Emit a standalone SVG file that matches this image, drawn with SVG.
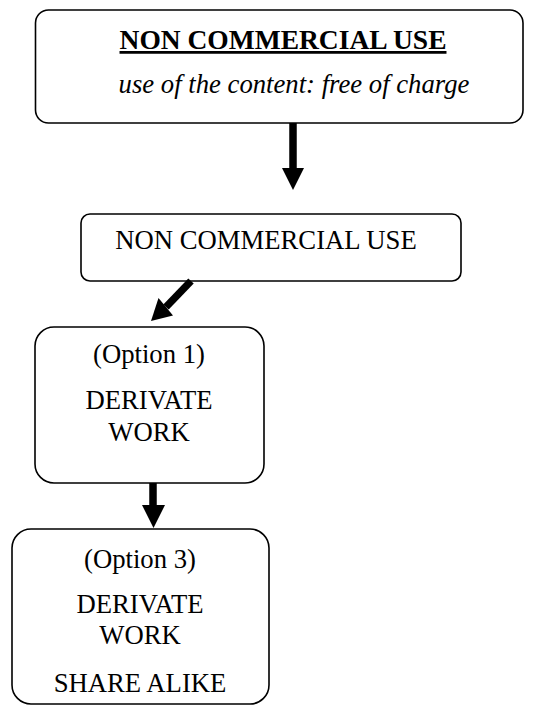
<svg xmlns="http://www.w3.org/2000/svg" width="534" height="706" viewBox="0 0 534 706">
<style>
.box{fill:#fff;stroke:#000;stroke-width:1.6}
.b{font-weight:bold;text-decoration:underline}
.i{font-style:italic}
.c{stroke:#000;stroke-width:7.5;fill:none}
.h{fill:#000;stroke:none}
</style>
<g font-family="Liberation Serif, serif" font-size="26.7" text-anchor="middle" fill="#000">
<g id="n1">
<rect class="box" x="35.5" y="10" width="487.5" height="113" rx="13"/>
<text class="b" x="283" y="49" font-size="27.5">NON COMMERCIAL USE</text>
<text class="i" x="294" y="92.5">use of the content: free of charge</text>
</g>
<g id="n2">
<rect class="box" x="81" y="214" width="380" height="67" rx="9"/>
<text x="266" y="248.5">NON COMMERCIAL USE</text>
</g>
<g id="n3">
<rect class="box" x="35" y="327" width="229" height="156" rx="19"/>
<text x="149" y="363">(Option 1)</text>
<text x="149" y="409">DERIVATE</text>
<text x="149" y="441">WORK</text>
</g>
<g id="n4">
<rect class="box" x="12" y="529" width="257" height="175" rx="19"/>
<text x="140" y="568">(Option 3)</text>
<text x="140" y="613">DERIVATE</text>
<text x="140" y="644">WORK</text>
<text x="140" y="692">SHARE ALIKE</text>
</g>
</g>
<g id="connectors">
<line class="c" x1="293" y1="123" x2="293" y2="169"/>
<polygon class="h" points="282,168 304,168 293,190"/>
<line class="c" x1="191" y1="281" x2="166" y2="307"/>
<polygon class="h" points="151,321 158.5,298 173,315.5"/>
<line class="c" x1="153" y1="483" x2="153" y2="506"/>
<polygon class="h" points="142,505 165,505 153.5,528"/>
</g>
</svg>
